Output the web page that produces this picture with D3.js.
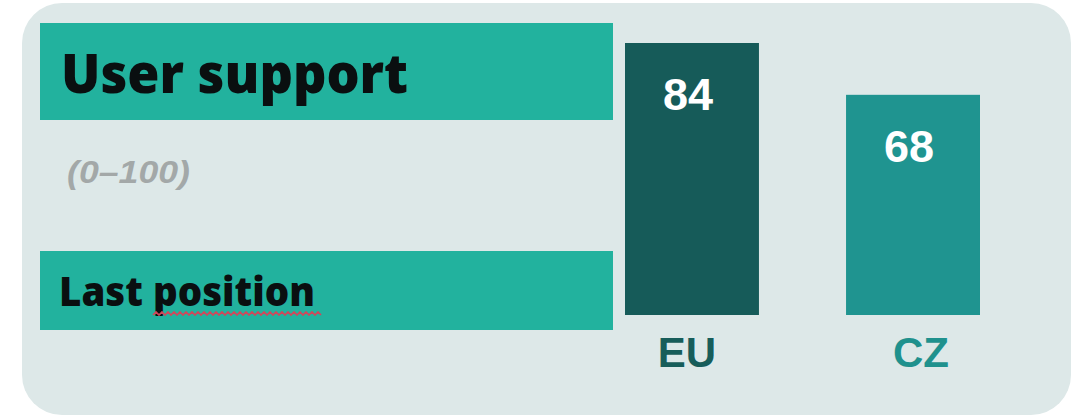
<!DOCTYPE html>
<html>
<head>
<meta charset="utf-8">
<script src="https://cdn.jsdelivr.net/npm/d3@7"></script>
<style>
  html, body { margin: 0; padding: 0; background: #ffffff; }
  svg { display: block; }
</style>
</head>
<body>
<svg id="chart" width="1074" height="418"></svg>
<script>
// ---- data ----
const categories = ["EU", "CZ"];
const values = [84, 68];
const barColors = ["#165b59", "#1f9490"];
const labelColors = ["#175d5a", "#1f918d"];
const titleText = "User support";
const scaleText = "(0–100)";
const positionText = "Last position";
const yDomain = [0, 100];

// ---- drawing ----
const svg = d3.select("#chart");

// panel background
svg.append("rect")
  .attr("x", 22).attr("y", 3)
  .attr("width", 1049).attr("height", 412)
  .attr("rx", 40).attr("ry", 40)
  .attr("fill", "#dde8e8");

// title band
svg.append("rect")
  .attr("x", 40).attr("y", 23).attr("width", 573).attr("height", 97)
  .attr("fill", "#22b29e");
svg.append("text")
  .attr("x", 61).attr("y", 93)
  .attr("font-family", "'Open Sans', sans-serif")
  .attr("font-weight", 800)
  .attr("font-size", 55)
  .attr("textLength", 347)
  .attr("lengthAdjust", "spacingAndGlyphs")
  .attr("fill", "#0a0f10")
  .text(titleText);

// scale subtitle
svg.append("text")
  .attr("x", 67).attr("y", 183)
  .attr("font-family", "'Liberation Sans', Arial, sans-serif")
  .attr("font-weight", 700)
  .attr("font-style", "italic")
  .attr("font-size", 32)
  .attr("textLength", 123)
  .attr("lengthAdjust", "spacingAndGlyphs")
  .attr("fill", "#a3a8a8")
  .text(scaleText);

// position band
svg.append("rect")
  .attr("x", 40).attr("y", 251).attr("width", 573).attr("height", 79)
  .attr("fill", "#22b29e");
svg.append("text")
  .attr("x", 59).attr("y", 306)
  .attr("font-family", "'Open Sans', sans-serif")
  .attr("font-weight", 800)
  .attr("font-size", 40)
  .attr("textLength", 256)
  .attr("lengthAdjust", "spacingAndGlyphs")
  .attr("fill", "#0a0f10")
  .text(positionText);

// spell-check squiggle under "position"
(function () {
  const x0 = 153, x1 = 321, yb = 315;
  let d = `M${x0},${yb}`;
  let up = true;
  for (let x = x0 + 3; x <= x1; x += 3) {
    d += ` L${x},${up ? yb - 3 : yb}`;
    up = !up;
  }
  svg.append("path").attr("d", d)
    .attr("fill", "none").attr("stroke", "#d2465a").attr("stroke-width", 1.6);
})();

// scales
const x = d3.scaleBand()
  .domain(categories)
  .range([625, 980])
  .paddingInner(0.394)
  .paddingOuter(0);
const y = d3.scaleLinear().domain(yDomain).range([315, 315 - 323.8]);

const data = categories.map((c, i) => ({ c, v: values[i], i }));

svg.selectAll("rect.bar")
  .data(data)
  .enter().append("rect")
  .attr("class", "bar")
  .attr("x", d => x(d.c))
  .attr("y", d => y(d.v))
  .attr("width", x.bandwidth())
  .attr("height", d => y(0) - y(d.v))
  .attr("fill", d => barColors[d.i]);

// value labels
svg.selectAll("text.val")
  .data(data)
  .enter().append("text")
  .attr("class", "val")
  .attr("x", d => x(d.c) + x.bandwidth() / 2 - 4)
  .attr("y", d => y(d.v) + 67)
  .attr("text-anchor", "middle")
  .attr("font-family", "'Liberation Sans', Arial, sans-serif")
  .attr("font-weight", 700)
  .attr("font-size", 45)
  .attr("fill", "#ffffff")
  .text(d => d.v);

// category axis labels
const xAxis = d3.axisBottom(x).tickSize(0).tickPadding(0);
const gx = svg.append("g").attr("transform", "translate(0,367)").call(xAxis);
gx.select(".domain").remove();
gx.selectAll(".tick text")
  .attr("dy", 0)
  .attr("x", (d, i) => i === 0 ? -5 : 8)
  .attr("font-family", "'Liberation Sans', Arial, sans-serif")
  .attr("font-weight", 700)
  .attr("font-size", 42)
  .attr("fill", (d, i) => labelColors[i]);
</script>
</body>
</html>
